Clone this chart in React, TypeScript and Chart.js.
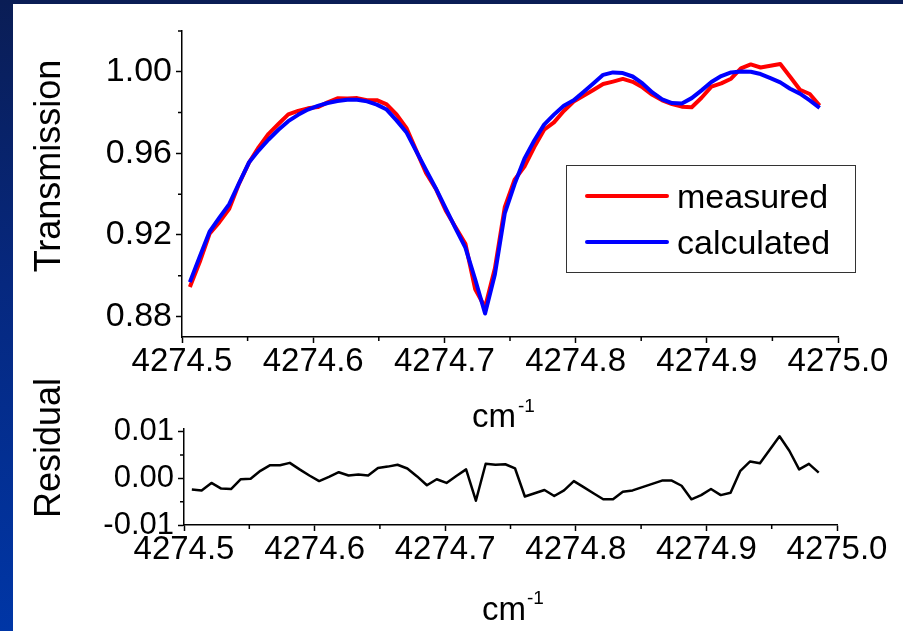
import React, { useEffect, useRef } from "react";
import { Chart, registerables } from "chart.js";

Chart.register(...registerables);

// ---------- data ----------
const wavenumber = [
  4274.506, 4274.5135, 4274.521, 4274.5285, 4274.536, 4274.5435, 4274.551, 4274.5585, 4274.566, 4274.5735,
  4274.581, 4274.5885, 4274.596, 4274.6035, 4274.611, 4274.6185, 4274.626, 4274.6335, 4274.641, 4274.6485,
  4274.656, 4274.6635, 4274.671, 4274.6785, 4274.686, 4274.6935, 4274.701, 4274.7085, 4274.716, 4274.7235,
  4274.731, 4274.7385, 4274.746, 4274.7535, 4274.761, 4274.7685, 4274.776, 4274.7835, 4274.791, 4274.7985,
  4274.806, 4274.8135, 4274.821, 4274.8285, 4274.836, 4274.8435, 4274.851, 4274.8585, 4274.866, 4274.8735,
  4274.881, 4274.8885, 4274.896, 4274.9035, 4274.911, 4274.9185, 4274.926, 4274.9335, 4274.941, 4274.9485,
  4274.956, 4274.9635, 4274.971, 4274.9785, 4274.986,
];

const measured = [
  0.8945, 0.9067, 0.9206, 0.9263, 0.9328, 0.9452, 0.9554, 0.9631, 0.9696, 0.9744,
  0.9791, 0.9808, 0.9821, 0.9827, 0.985, 0.987, 0.9869, 0.9871, 0.9861, 0.9861,
  0.984, 0.9791, 0.9725, 0.9615, 0.9504, 0.9426, 0.932, 0.9238, 0.9157, 0.8934,
  0.8846, 0.9037, 0.9336, 0.9471, 0.9535, 0.9631, 0.9716, 0.9752, 0.9808, 0.9854,
  0.9882, 0.9911, 0.994, 0.9952, 0.9965, 0.9951, 0.9924, 0.9887, 0.986, 0.9842,
  0.9829, 0.9826, 0.9873, 0.9927, 0.9943, 0.9966, 1.0017, 1.0036, 1.0021, 1.003,
  1.0038, 0.9976, 0.9912, 0.9891, 0.9835,
];

const calculated = [
  0.8969, 0.9093, 0.9216, 0.9285, 0.9351, 0.9454, 0.9555, 0.9615, 0.9668, 0.9716,
  0.9758, 0.9789, 0.9815, 0.9833, 0.9847, 0.9857, 0.9863, 0.9863, 0.9855, 0.9839,
  0.9815, 0.9762, 0.9704, 0.9611, 0.9519, 0.9428, 0.933, 0.9233, 0.9138, 0.8982,
  0.8815, 0.9008, 0.9306, 0.945, 0.9574, 0.9663, 0.9741, 0.979, 0.9834, 0.986,
  0.9901, 0.9943, 0.9985, 0.9997, 0.9994, 0.9977, 0.9943, 0.9899, 0.9865, 0.9847,
  0.9845, 0.9871, 0.9909, 0.995, 0.9979, 0.9997, 1.0001, 1.0, 0.9989, 0.9969,
  0.9948, 0.9917, 0.9893, 0.986, 0.9823,
];

const residual = [
  -0.0024, -0.0026, -0.001, -0.0022, -0.0023, -0.0002, -0.0001, 0.0016, 0.0028, 0.0028,
  0.0033, 0.0019, 0.0006, -0.0006, 0.0003, 0.0013, 0.0006, 0.0008, 0.0006, 0.0022,
  0.0025, 0.0029, 0.0021, 0.0004, -0.0015, -0.0002, -0.001, 0.0005, 0.0019, -0.0048,
  0.0031, 0.0029, 0.003, 0.0021, -0.0039, -0.0032, -0.0025, -0.0038, -0.0026, -0.0006,
  -0.0019, -0.0032, -0.0045, -0.0045, -0.0029, -0.0026, -0.0019, -0.0012, -0.0005, -0.0005,
  -0.0016, -0.0045, -0.0036, -0.0023, -0.0036, -0.0031, 0.0016, 0.0036, 0.0032, 0.0061,
  0.009, 0.0059, 0.0019, 0.0031, 0.0012,
];

const xTicks = [4274.5, 4274.6, 4274.7, 4274.8, 4274.9, 4275.0];
const xMinorTicks = [4274.55, 4274.65, 4274.75, 4274.85, 4274.95];
const transTicks = [0.88, 0.92, 0.96, 1.0];
const transMinorTicks = [0.9, 0.94, 0.98, 1.02];
const resTicks = [-0.01, 0, 0.01];
const resMinorTicks = [-0.005, 0.005];

const seriesLabels = ["measured", "calculated"];
const seriesColors = ["#ff0000", "#0000ff"];

const FONT = '"Liberation Sans", Arial, Helvetica, sans-serif';

// ---------- helpers ----------
function minorTicksPlugin(xMinor: number[], yMinor: number[], len: number) {
  return {
    id: "minorTicks",
    afterDraw(chart: any) {
      const { ctx, chartArea, scales } = chart;
      ctx.save();
      ctx.strokeStyle = "#000";
      ctx.lineWidth = 1.5;
      ctx.beginPath();
      xMinor.forEach((v) => {
        const x = scales.x.getPixelForValue(v);
        ctx.moveTo(x, chartArea.bottom);
        ctx.lineTo(x, chartArea.bottom + len);
      });
      yMinor.forEach((v) => {
        const y = scales.y.getPixelForValue(v);
        ctx.moveTo(chartArea.left, y);
        ctx.lineTo(chartArea.left - len, y);
      });
      ctx.stroke();
      ctx.restore();
    },
  };
}

function drawRotated(ctx: CanvasRenderingContext2D, text: string, x: number, y: number, size: number) {
  ctx.save();
  ctx.translate(x, y);
  ctx.rotate(-Math.PI / 2);
  ctx.font = `${size}px ${FONT}`;
  ctx.fillStyle = "#000";
  ctx.textAlign = "center";
  ctx.textBaseline = "alphabetic";
  ctx.fillText(text, 0, 0);
  ctx.restore();
}

function drawUnit(ctx: CanvasRenderingContext2D, x: number, baseline: number, supX: number, supBaseline: number) {
  ctx.save();
  ctx.fillStyle = "#000";
  ctx.textAlign = "left";
  ctx.textBaseline = "alphabetic";
  ctx.font = `33px ${FONT}`;
  ctx.fillText("cm", x, baseline);
  ctx.font = `19px ${FONT}`;
  ctx.fillText("-1", supX, supBaseline);
  ctx.restore();
}

function axisCommon(fontSize: number, padding: number, digits: number) {
  return {
    grid: {
      display: true,
      drawOnChartArea: false,
      drawTicks: true,
      tickLength: 6,
      tickWidth: 1.5,
      tickColor: "#000",
    },
    border: { display: true, color: "#000", width: 1.5 },
    ticks: {
      color: "#000",
      font: { family: FONT, size: fontSize },
      padding,
      autoSkip: false,
      maxRotation: 0,
      minRotation: 0,
      callback: (v: any) => Number(v).toFixed(digits),
    },
  };
}

// ---------- components ----------
function TransmissionChart() {
  const ref = useRef<HTMLCanvasElement | null>(null);
  useEffect(() => {
    if (!ref.current) return;
    const textPlugin = {
      id: "texts",
      afterDraw(chart: any) {
        const ctx = chart.ctx as CanvasRenderingContext2D;
        drawRotated(ctx, "Transmission", 60, 166, 36);
        drawUnit(ctx, 472, 427, 518, 412);
        // legend
        ctx.save();
        ctx.strokeStyle = "#333";
        ctx.lineWidth = 1;
        ctx.strokeRect(566.5, 165.5, 289, 107);
        const rows = [196, 242];
        seriesLabels.forEach((label, i) => {
          ctx.strokeStyle = seriesColors[i];
          ctx.lineWidth = 4;
          ctx.lineCap = "round";
          ctx.beginPath();
          ctx.moveTo(587, rows[i]);
          ctx.lineTo(667, rows[i]);
          ctx.stroke();
          ctx.fillStyle = "#000";
          ctx.font = `34px ${FONT}`;
          ctx.textAlign = "left";
          ctx.textBaseline = "alphabetic";
          ctx.fillText(label, 677, rows[i] + 12);
        });
        ctx.restore();
      },
    };
    const xc = axisCommon(33, -1, 1);
    const yc = axisCommon(34, 4, 2);
    const chart = new Chart(ref.current, {
      type: "line",
      data: {
        datasets: [
          {
            label: seriesLabels[0],
            data: wavenumber.map((x, i) => ({ x, y: measured[i] })),
            borderColor: seriesColors[0],
            borderWidth: 4,
            pointRadius: 0,
            tension: 0,
            borderJoinStyle: "round",
            order: 2,
          },
          {
            label: seriesLabels[1],
            data: wavenumber.map((x, i) => ({ x, y: calculated[i] })),
            borderColor: seriesColors[1],
            borderWidth: 4,
            pointRadius: 0,
            tension: 0,
            borderJoinStyle: "round",
            order: 1,
          },
        ],
      },
      options: {
        responsive: false,
        animation: false,
        events: [],
        layout: { padding: { top: 31, right: 65, left: 0, bottom: 0 } },
        plugins: { legend: { display: false }, tooltip: { enabled: false } },
        scales: {
          x: {
            type: "linear",
            min: 4274.5,
            max: 4275.0,
            ...xc,
            afterBuildTicks: (s: any) => {
              s.ticks = xTicks.map((v) => ({ value: v }));
            },
            afterFit: (s: any) => {
              s.height = 103;
            },
          },
          y: {
            type: "linear",
            min: 0.87,
            max: 1.02,
            ...yc,
            afterBuildTicks: (s: any) => {
              s.ticks = transTicks.map((v) => ({ value: v }));
            },
            afterFit: (s: any) => {
              s.width = 182;
            },
          },
        },
      } as any,
      plugins: [minorTicksPlugin(xMinorTicks, transMinorTicks, 4), textPlugin],
    });
    return () => chart.destroy();
  }, []);
  return (
    <canvas
      ref={ref}
      width={903}
      height={440}
      style={{ position: "absolute", left: 0, top: 0, width: 903, height: 440 }}
    />
  );
}

function ResidualChart() {
  const ref = useRef<HTMLCanvasElement | null>(null);
  useEffect(() => {
    if (!ref.current) return;
    const textPlugin = {
      id: "texts",
      afterDraw(chart: any) {
        const ctx = chart.ctx as CanvasRenderingContext2D;
        drawRotated(ctx, "Residual", 60, 73, 36);
        drawUnit(ctx, 482, 245, 527, 229);
      },
    };
    const xc = axisCommon(33, -1, 1);
    const yc = axisCommon(31, 4, 2);
    const chart = new Chart(ref.current, {
      type: "line",
      data: {
        datasets: [
          {
            label: "Residual",
            data: wavenumber.map((x, i) => ({ x, y: residual[i] })),
            borderColor: "#000",
            borderWidth: 2.5,
            pointRadius: 0,
            tension: 0,
            borderJoinStyle: "round",
          },
        ],
      },
      options: {
        responsive: false,
        animation: false,
        events: [],
        layout: { padding: { top: 53.3, right: 66, left: 0, bottom: 0 } },
        plugins: { legend: { display: false }, tooltip: { enabled: false } },
        scales: {
          x: {
            type: "linear",
            min: 4274.5,
            max: 4275.0,
            ...xc,
            afterBuildTicks: (s: any) => {
              s.ticks = xTicks.map((v) => ({ value: v }));
            },
            afterFit: (s: any) => {
              s.height = 106;
            },
          },
          y: {
            type: "linear",
            min: -0.01,
            max: 0.0107,
            ...yc,
            afterBuildTicks: (s: any) => {
              s.ticks = resTicks.map((v) => ({ value: v }));
            },
            afterFit: (s: any) => {
              s.width = 184;
            },
          },
        },
      } as any,
      plugins: [minorTicksPlugin(xMinorTicks, resMinorTicks, 4), textPlugin],
    });
    return () => chart.destroy();
  }, []);
  return (
    <canvas
      ref={ref}
      width={903}
      height={256}
      style={{ position: "absolute", left: 0, top: 375, width: 903, height: 256 }}
    />
  );
}

export default function App() {
  return (
    <div
      style={{
        position: "fixed",
        left: 0,
        top: 0,
        width: 903,
        height: 631,
        overflow: "hidden",
        background: "linear-gradient(180deg, #0a1d55 0%, #06287f 45%, #0036a6 100%)",
      }}
    >
      <div
        style={{
          position: "absolute",
          left: 13,
          top: 4,
          right: 0,
          bottom: 0,
          background: "#ffffff",
        }}
      />
      <TransmissionChart />
      <ResidualChart />
    </div>
  );
}
